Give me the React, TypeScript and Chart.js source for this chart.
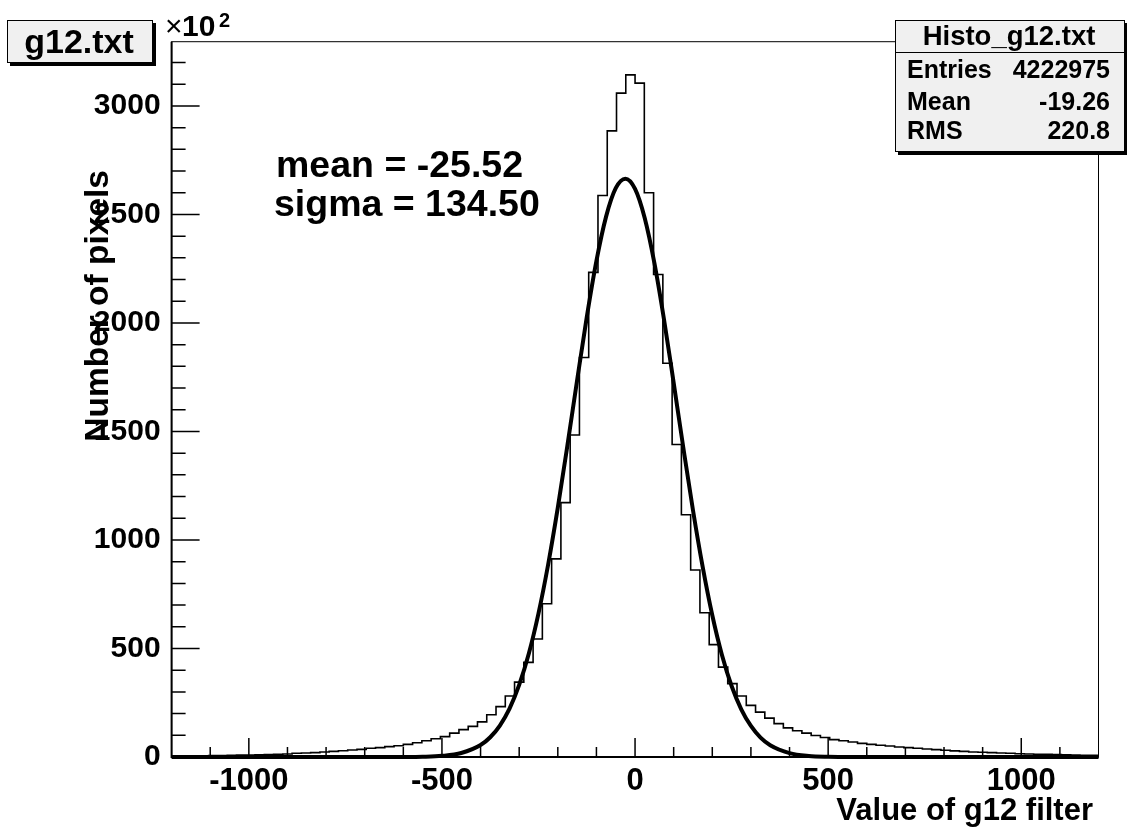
import React, { useEffect, useRef } from 'react';
import { Chart, registerables } from 'chart.js';

Chart.register(...registerables);

// ---------- data (counts shown in units of 10^2) ----------
const HIST_MIN = -1200;
const HIST_MAX = 1200;
const binCounts = [
  5, 5, 5.5, 6, 6.5, 7, 8, 8.5, 9.5, 10.5,
  11.5, 12.6, 14, 17, 18.5, 20, 23, 26, 29, 32,
  35, 40, 43, 48, 52, 58, 66, 75, 84, 94,
  110, 126, 141, 162, 195, 232, 281, 345, 436, 544,
  706, 913, 1172, 1484, 1841, 2233, 2587, 2885, 3059, 3143,
  3105, 2600, 2223, 1814, 1440, 1116, 862, 665, 518, 414,
  338, 281, 238, 207, 179, 154, 134, 121, 110, 99,
  90, 80, 75, 69, 63, 58, 54, 51, 46, 43,
  40, 37, 34, 31, 28, 26, 23, 22, 20, 18.5,
  17, 15, 14, 12.6, 12, 11, 10, 9, 8, 8,
];
const fitX = [
  -1200, -900, -700, -600, -550, -500, -450, -400, -375, -350,
  -325, -300, -275, -250, -225, -200, -175, -150, -125, -100,
  -75, -50, -25, 0, 25, 50, 75, 100, 125, 150,
  175, 200, 225, 250, 275, 300, 325, 350, 400, 450,
  500, 550, 600, 700, 900, 1200,
];
const fitY = [
  0, 0, 0, 0.3, 1.3, 5.3, 18.3, 55, 91, 145,
  223, 332, 477, 662, 887, 1149, 1437, 1736, 2027, 2286,
  2490, 2621, 2665, 2618, 2484, 2277, 2016, 1724, 1425, 1137,
  877, 653, 470, 327, 220, 143, 89, 54, 18, 5.1,
  1.3, 0.3, 0, 0, 0, 0,
];
const Y_MAX = 3296;
const xMajorTicks = [-1000, -500, 0, 500, 1000];
const yMajorTicks = [0, 500, 1000, 1500, 2000, 2500, 3000];
const MINOR_STEP = 100;
const histTitle = 'g12.txt';
const statsTitle = 'Histo_g12.txt';
const statsNames = ['Entries', 'Mean', 'RMS'];
const statsValues = ['4222975', '-19.26', '220.8'];
const fitLabels = ['mean = -25.52', 'sigma = 134.50'];
const xTitle = 'Value of g12 filter';
const yTitle = 'Number of pixels';

const FONT = '"Liberation Sans", Arial, Helvetica, sans-serif';
const W = 1127;
const H = 833;

const overlay = {
  id: 'rootOverlay',
  beforeDraw(chart: any) {
    const ctx = chart.ctx;
    ctx.save();
    ctx.fillStyle = '#ffffff';
    ctx.fillRect(0, 0, chart.width, chart.height);
    ctx.restore();
  },
  afterDatasetsDraw(chart: any) {
    const { ctx, chartArea: a, scales } = chart;
    const xs = scales.x;
    const ys = scales.y;
    ctx.save();
    // frame
    ctx.strokeStyle = '#000';
    ctx.lineWidth = 1;
    ctx.strokeRect(a.left, a.top, a.right - a.left, a.bottom - a.top);
    ctx.lineWidth = 2;
    ctx.beginPath();
    ctx.moveTo(a.left, a.top);
    ctx.lineTo(a.left, a.bottom);
    ctx.lineTo(a.right, a.bottom);
    ctx.stroke();
    // ticks
    ctx.lineWidth = 1.5;
    ctx.beginPath();
    for (let v = HIST_MIN + MINOR_STEP; v < HIST_MAX; v += MINOR_STEP) {
      const px = xs.getPixelForValue(v);
      const len = v % 500 === 0 ? 19 : 10;
      ctx.moveTo(px, a.bottom);
      ctx.lineTo(px, a.bottom - len);
    }
    for (let v = MINOR_STEP; v < Y_MAX; v += MINOR_STEP) {
      const py = ys.getPixelForValue(v);
      const len = v % 500 === 0 ? 28 : 14;
      ctx.moveTo(a.left, py);
      ctx.lineTo(a.left + len, py);
    }
    ctx.stroke();

    ctx.fillStyle = '#000';
    // x10^2
    ctx.textBaseline = 'alphabetic';
    ctx.textAlign = 'left';
    ctx.font = `normal 30px ${FONT}`;
    ctx.fillText('\u00d7', 165, 36);
    ctx.font = `bold 30px ${FONT}`;
    ctx.fillText('10', 182, 36);
    ctx.font = `bold 20px ${FONT}`;
    ctx.fillText('2', 219, 27);

    // fit annotations
    ctx.font = `bold 37.5px ${FONT}`;
    ctx.fillText(fitLabels[0], 276, 177);
    ctx.fillText(fitLabels[1], 274, 216);

    // axis titles
    ctx.font = `bold 31px ${FONT}`;
    ctx.textAlign = 'right';
    ctx.fillText(xTitle, 1093, 820);
    ctx.save();
    ctx.font = `bold 33.5px ${FONT}`;
    ctx.translate(108, 170);
    ctx.rotate(-Math.PI / 2);
    ctx.textAlign = 'right';
    ctx.fillText(yTitle, 0, 0);
    ctx.restore();

    // title box
    const drawBox = (x: number, y: number, w: number, h: number) => {
      ctx.fillStyle = '#000';
      ctx.fillRect(x + 3, y + 3, w, h);
      ctx.fillStyle = '#f0f0f0';
      ctx.fillRect(x, y, w, h);
      ctx.strokeStyle = '#000';
      ctx.lineWidth = 1;
      ctx.strokeRect(x + 0.5, y + 0.5, w - 1, h - 1);
    };
    drawBox(7, 20, 146, 43);
    ctx.fillStyle = '#000';
    ctx.textAlign = 'center';
    ctx.font = `bold 34px ${FONT}`;
    ctx.fillText(histTitle, 79, 53);

    // stats box
    drawBox(895, 20, 230, 132);
    ctx.beginPath();
    ctx.moveTo(895, 52.5);
    ctx.lineTo(1125, 52.5);
    ctx.stroke();
    ctx.fillStyle = '#000';
    ctx.textAlign = 'center';
    ctx.font = `bold 27.5px ${FONT}`;
    ctx.fillText(statsTitle, 1009, 45);
    ctx.font = `bold 25px ${FONT}`;
    const rowBase = [78, 110, 139];
    statsNames.forEach((n, i) => {
      ctx.textAlign = 'left';
      ctx.fillText(n, 907, rowBase[i]);
      ctx.textAlign = 'right';
      ctx.fillText(statsValues[i], 1110, rowBase[i]);
    });
    ctx.restore();
  },
};

export default function App() {
  const ref = useRef<HTMLCanvasElement | null>(null);
  useEffect(() => {
    document.body.style.margin = '0';
    const canvas = ref.current;
    if (!canvas) return;
    const binWidth = (HIST_MAX - HIST_MIN) / binCounts.length;
    const histPoints = binCounts.map((c, i) => ({ x: HIST_MIN + i * binWidth, y: c }));
    histPoints.push({ x: HIST_MAX, y: binCounts[binCounts.length - 1] });
    const fitPoints = fitX.map((x, i) => ({ x, y: fitY[i] }));
    const chart = new Chart(canvas, {
      type: 'line',
      data: {
        datasets: [
          {
            label: 'fit',
            data: fitPoints,
            borderColor: '#000',
            borderWidth: 4,
            pointRadius: 0,
            fill: false,
            cubicInterpolationMode: 'monotone',
            order: 0,
            clip: 6,
          } as any,
          {
            label: 'hist',
            data: histPoints,
            borderColor: '#000',
            borderWidth: 1.6,
            pointRadius: 0,
            fill: false,
            stepped: 'before',
            order: 1,
          } as any,
        ],
      },
      options: {
        responsive: false,
        animation: false,
        devicePixelRatio: 1,
        events: [],
        layout: { padding: { top: 41.7, right: 28.5, left: 0, bottom: 0 } },
        plugins: { legend: { display: false }, tooltip: { enabled: false }, title: { display: false } },
        scales: {
          x: {
            type: 'linear',
            min: HIST_MIN,
            max: HIST_MAX,
            grid: { display: false, drawTicks: false },
            border: { display: false },
            afterFit: (s: any) => { s.height = H - 757; },
            afterBuildTicks: (s: any) => { s.ticks = xMajorTicks.map((v) => ({ value: v })); },
            ticks: {
              color: '#000',
              padding: 6,
              maxRotation: 0,
              autoSkip: false,
              font: { family: FONT, size: 31, weight: 'bold' },
              callback: (v: any) => String(v),
            },
          },
          y: {
            type: 'linear',
            min: 0,
            max: Y_MAX,
            grid: { display: false, drawTicks: false },
            border: { display: false },
            afterFit: (s: any) => { s.width = 171.6; },
            afterBuildTicks: (s: any) => { s.ticks = yMajorTicks.map((v) => ({ value: v })); },
            ticks: {
              color: '#000',
              padding: 11,
              autoSkip: false,
              font: { family: FONT, size: 30, weight: 'bold' },
              callback: (v: any) => String(v),
            },
          },
        },
      } as any,
      plugins: [overlay],
    });
    return () => chart.destroy();
  }, []);
  return <canvas ref={ref} width={W} height={H} style={{ display: 'block', width: W, height: H }} />;
}
